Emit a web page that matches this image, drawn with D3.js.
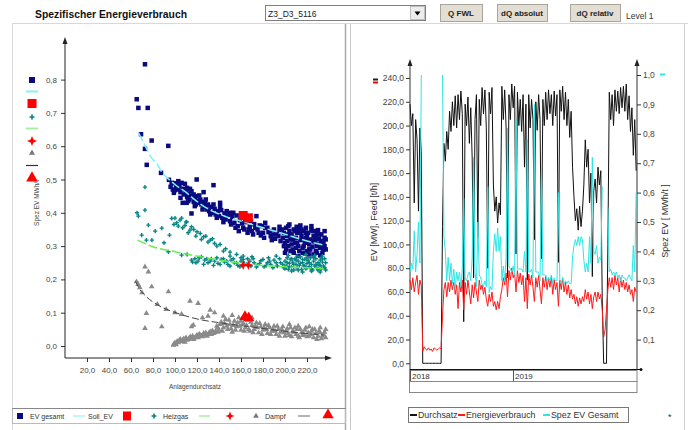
<!DOCTYPE html>
<html><head><meta charset="utf-8">
<script src="https://cdn.jsdelivr.net/npm/d3@7"></script>
<style>
body{margin:0;background:#fff;}
svg{display:block;font-family:"Liberation Sans",Arial,sans-serif;}
</style></head><body>
<svg id="c" width="688" height="430"></svg>
<script>
// ---------------- LEFT CHART DATA ----------------
const xTicksL = [20,40,60,80,100,120,140,160,180,200,220];
const yTicksL = [0,0.1,0.2,0.3,0.4,0.5,0.6,0.7,0.8];
const evGesamt = [[72.7,0.846],[65.2,0.741],[66.7,0.715],[75.2,0.715],[69.1,0.636],[78.8,0.617],[93.9,0.601],[72.7,0.592],[74.3,0.544],[87.3,0.52],[94.5,0.499],[100,0.489],[100,0.468],[106,0.49],[109,0.487],[113.6,0.472],[119.7,0.5],[115,0.398],[107,0.43],[135,0.483],[110.6,0.43],[122.7,0.43],[128.8,0.423],[141,0.43],[150,0.4],[97,0.49],[103,0.495],[111,0.475],[126,0.462],[117,0.455],
[96,0.478],[98,0.47],[101,0.476],[103,0.47],[104,0.482],[105,0.462],[107,0.472],[108,0.455],[110,0.462],[111,0.447],[112,0.458],[113,0.44],[114,0.452],[116,0.447],[117,0.433],[118,0.443],[119,0.425],[120,0.45],[121,0.436],[123,0.44],[124,0.425],[125,0.433],[126,0.418],[127,0.43],[129,0.41],[130,0.425],[131,0.405],[133,0.418],[134,0.4],[136,0.412],[137,0.395],[139,0.405],[140,0.39],[142,0.408],[143,0.385],[145,0.398],[146,0.38],[148,0.392],[150,0.375],[152,0.388],[154,0.37],[156,0.392],[157,0.36],[159,0.378],[161,0.368],[163,0.35],[165,0.372],[168,0.358],[170,0.345],[172,0.366],[175,0.35],[177,0.362],[180,0.34],[182,0.355],[185,0.342],[187,0.33],[190,0.35],[192,0.335],[195,0.345],[174,0.39],[182,0.37],[195,0.358],[210.6,0.358],[158,0.345],[166,0.34],[178,0.332],[188,0.318],
[99,0.46],[102,0.488],[105,0.445],[109,0.47],[112,0.435],[115,0.465],[118,0.42],[122,0.452],[125,0.41],[128,0.44],[132,0.395],[135,0.425],[138,0.385],[141,0.418],[144,0.372],[147,0.405],[151,0.365],[153,0.4],[155,0.355],[160,0.39],[162,0.355],[164,0.38],[167,0.35],[169,0.375],[171,0.335],[173,0.355],[176,0.34],[179,0.36],[181,0.325],[184,0.355],[186,0.345],[189,0.335],[191,0.322],[194,0.33],[196,0.315],[197,0.35],
[198,0.325],[199,0.34],[200,0.31],[201,0.355],[202,0.33],[203,0.3],[204,0.345],[205,0.32],[206,0.335],[207,0.29],[208,0.35],[209,0.31],[210,0.325],[211,0.34],[212,0.3],[213,0.355],[214,0.318],[215,0.33],[216,0.295],[217,0.345],[218,0.31],[219,0.325],[220,0.285],[221,0.34],[222,0.305],[223,0.32],[224,0.35],[225,0.298],[226,0.33],[227,0.312],[228,0.285],[229,0.34],[230,0.305],[231,0.322],[232,0.295],[233,0.335],[234,0.31],[235,0.29],[236,0.325],[212,0.27],[218,0.278],[226,0.275],[232,0.272],[204,0.365],[214,0.362],[224,0.36],[230,0.348],[236,0.3],[200,0.28],[208,0.28],[202,0.315],[206,0.305],[210,0.295],[214,0.34],[216,0.32],[220,0.33],[222,0.29],[226,0.315],[228,0.33],[230,0.32],[234,0.28],[236,0.345],
[199,0.3],[201,0.29],[203,0.335],[205,0.285],[207,0.32],[209,0.345],[211,0.31],[213,0.285],[215,0.35],[217,0.3],[219,0.34],[221,0.315],[223,0.29],[225,0.345],[227,0.325],[229,0.3],[231,0.335],[233,0.315],[235,0.31],[237,0.32],[237,0.29],[203,0.36],[211,0.352],[219,0.355],[227,0.345],[233,0.3],[216,0.28],[222,0.275],[229,0.28]];
const heizgas = [[72.7,0.477],[65.5,0.40],[66.7,0.39],[72.7,0.408],[75.8,0.363],[88,0.354],[100,0.384],[101.5,0.37],[106,0.384],[110,0.372],[115,0.358],[69.7,0.333],[74,0.318],[79,0.318],[95,0.333],[94,0.283],[106,0.273],[111,0.275],[115,0.258],[116,0.252],[82,0.345],[90,0.31],
[97,0.383],[104.5,0.378],[110.6,0.373],[107,0.355],[113.6,0.348],[120,0.343],[126,0.328],[132,0.318],[136,0.308],[99,0.365],[103,0.36],[109,0.362],[112,0.34],[117,0.35],[119,0.33],[123,0.338],[124,0.32],[128,0.33],[130,0.312],[134,0.322],[138,0.3],[141,0.305],[144,0.285],[150,0.282],[156,0.275],[162,0.27],[146,0.292],
[118,0.262],[121,0.255],[124,0.268],[127,0.258],[130,0.25],[133,0.262],[136,0.255],[139,0.248],[142,0.26],[145,0.252],[148,0.245],[151,0.258],[154,0.25],[157,0.242],[160,0.255],[163,0.248],[166,0.262],[169,0.24],[172,0.25],[175,0.243],[178,0.256],[181,0.238],[184,0.25],[187,0.245],[190,0.258],[193,0.24],[196,0.25],[199,0.235],[150,0.27],[160,0.265],[170,0.268],[185,0.265],[192,0.27],
[119,0.25],[122,0.265],[126,0.245],[129,0.262],[132,0.255],[135,0.242],[138,0.265],[141,0.245],[144,0.262],[147,0.255],[150,0.24],[153,0.262],[156,0.25],[159,0.238],[162,0.26],[165,0.245],[168,0.255],[171,0.262],[174,0.237],[177,0.248],[180,0.26],[183,0.242],[186,0.255],[189,0.235],[192,0.25],[195,0.262],[198,0.245],
[200,0.255],[201,0.24],[202,0.265],[203,0.23],[204,0.248],[205,0.26],[206,0.238],[207,0.252],[208,0.228],[209,0.262],[210,0.245],[211,0.235],[212,0.255],[213,0.242],[214,0.268],[215,0.23],[216,0.25],[217,0.24],[218,0.26],[219,0.232],[220,0.248],[221,0.257],[222,0.238],[223,0.265],[224,0.245],[225,0.228],[226,0.255],[227,0.24],[228,0.262],[229,0.235],[230,0.25],[231,0.243],[232,0.258],[233,0.232],[234,0.252],[235,0.24],[236,0.262],[203,0.272],[211,0.27],[219,0.275],[227,0.272],[234,0.27],[206,0.225],[216,0.222],[224,0.225],[232,0.222],
[200,0.232],[202,0.25],[204,0.238],[206,0.262],[208,0.245],[210,0.258],[212,0.228],[214,0.248],[216,0.26],[218,0.24],[220,0.265],[222,0.25],[224,0.232],[226,0.265],[228,0.245],[230,0.228],[232,0.242],[234,0.262],[236,0.235],[237,0.25],[237,0.228]];
const dampf = [[72.7,0.238],[75.8,0.223],[65,0.193],[66.5,0.185],[68,0.175],[78.8,0.178],[94,0.163],[74,0.098],[72.7,0.053],[88,0.058],[113.6,0.135],[115,0.058],[121,0.128],[132,0.108],[136,0.1],[116.7,0.063],[70,0.16],[84,0.125],[92,0.11],[100,0.1],[106,0.095],[125,0.085],[130,0.09],
[98.5,0.003],[100,0.01],[102,0.014],[104,0.018],[106,0.013],[108,0.022],[110,0.025],[112,0.02],[114,0.028],[116,0.03],[118,0.025],[120,0.033],[122,0.036],[124,0.03],[126,0.038],[128,0.04],[130,0.034],[132,0.043],[134,0.046],[136,0.04],
[99,0.006],[101,0.004],[103,0.01],[105,0.02],[107,0.017],[109,0.012],[111,0.018],[113,0.024],[115,0.022],[117,0.02],[119,0.028],[121,0.025],[123,0.032],[125,0.028],[127,0.033],[129,0.03],[131,0.04],[133,0.035],[135,0.038],[137,0.045],[139,0.042],
[138,0.06],[140,0.048],[142,0.072],[144,0.055],[146,0.08],[148,0.05],[150,0.065],[152,0.042],[154,0.075],[156,0.058],[158,0.085],[160,0.048],[162,0.068],[164,0.055],[166,0.078],[168,0.045],[170,0.062],[172,0.05],[174,0.07],[176,0.04],[178,0.058],[180,0.048],[182,0.065],[184,0.038],[186,0.055],[188,0.045],[190,0.06],[192,0.035],[194,0.05],[196,0.042],[198,0.058],[200,0.03],[201,0.045],[203,0.038],[205,0.055],[206,0.028],[208,0.042],[210,0.035],[211,0.05],[213,0.025],[215,0.04],[216,0.032],[218,0.048],[220,0.028],[221,0.04],[223,0.035],[225,0.05],[226,0.025],[228,0.038],[230,0.03],[231,0.045],[233,0.022],[235,0.035],[236,0.042],[204,0.065],[212,0.06],[222,0.058],[232,0.055],[144,0.09],[152,0.092],[160,0.075],[170,0.085],
[139,0.055],[141,0.065],[143,0.045],[145,0.068],[147,0.06],[149,0.078],[151,0.052],[153,0.062],[155,0.048],[157,0.07],[159,0.06],[161,0.082],[163,0.045],[165,0.062],[167,0.05],[169,0.072],[171,0.04],[173,0.06],[175,0.055],[177,0.068],[179,0.035],[181,0.055],[183,0.05],[185,0.062],[187,0.035],[189,0.05],[191,0.045],[193,0.06],[195,0.03],[197,0.05],[199,0.04],[202,0.052],[204,0.032],[207,0.045],[209,0.055],[212,0.03],[214,0.05],[217,0.035],[219,0.055],[222,0.03],[224,0.045],[227,0.05],[229,0.02],[232,0.04],[234,0.03],[237,0.05],[237,0.025]];
const evCurrent = [[162,0.392],[166.7,0.385]];
const heizCurrent = [[162,0.243],[166.7,0.243]];
const dampfCurrent = [[163.6,0.088],[167,0.084]];
const sollEV = [[67,0.64],[73,0.60],[78,0.568],[84,0.545],[88,0.522],[93,0.505],[100,0.485],[111,0.459],[117,0.442],[132,0.408],[145,0.39],[159,0.376],[180,0.355],[198,0.338],[215,0.32],[235,0.303]];
const sollHeiz = [[66,0.318],[80,0.298],[100,0.283],[123,0.268],[150,0.253],[168,0.245],[200,0.238],[235,0.233]];
const sollDampf = [[64,0.195],[68,0.17],[74,0.148],[86,0.12],[98,0.103],[110,0.09],[123,0.079],[138,0.071],[168,0.058],[198,0.045],[235,0.033]];

// ---------------- RIGHT CHART DATA (5-day samples from 2018-01-01) ----------------
const startDate = new Date(2018,0,1);
const stepDays = 5;
const yTicksR1 = [0,20,40,60,80,100,120,140,160,180,200,220,240];
const yTicksR2 = [0.1,0.2,0.3,0.4,0.5,0.6,0.7,0.8,0.9,1.0];
const durchsatz = [218,200,210,135,205,188,128,198,178,0,
0,0,0,0,0,0,0,0,0,0,
0,0,0,115,185,170,195,180,212,195,
220,200,225,198,226,205,229,210,35,218,
200,224,185,215,172,72,205,226,105,222,
200,232,210,230,198,80,228,210,232,150,
128,140,118,135,125,233,205,230,198,72,
226,205,235,215,233,92,228,200,222,195,
226,165,218,70,226,198,222,205,104,220,
196,226,205,88,222,200,228,205,230,210,
226,200,229,208,226,85,230,212,233,205,
228,200,222,190,212,165,140,120,130,112,
132,115,128,150,188,165,180,135,160,73,
145,155,135,165,150,162,55,0,0,0,
100,228,205,226,200,230,212,229,210,232,
215,233,212,235,205,225,195,215,175,205,
162];
const energie = [70,62,72,60,68,74,58,70,65,10,
14,12,11,13,11,12,10,13,12,11,
12,13,12,40,62,68,56,68,60,70,
62,68,58,66,46,68,60,70,45,68,
58,70,60,50,66,55,68,60,52,70,
62,66,58,64,54,48,58,52,60,48,
52,45,52,46,56,62,72,66,76,56,
78,70,80,72,76,60,78,68,76,66,
74,52,72,46,75,66,74,64,52,72,
64,74,62,50,72,64,73,62,72,64,
73,58,70,62,68,48,70,62,72,60,
68,58,66,55,62,54,58,50,56,48,
55,50,56,52,62,54,60,50,58,46,
56,60,52,60,54,58,45,22,28,45,
62,72,64,72,62,74,66,72,60,72,
64,70,62,68,60,66,58,62,52,64,
60];
const spezEV = [0.33,0.36,0.34,0.47,0.33,0.39,0.5,0.36,1.0,null,
null,null,null,null,null,null,null,null,null,null,
null,null,null,1.0,0.45,0.4,0.3,0.38,0.3,0.36,
0.29,0.34,0.27,0.33,0.3,0.33,0.28,0.34,0.58,0.31,
0.3,0.32,0.33,0.3,0.38,0.72,0.33,0.28,0.5,0.32,
0.31,0.29,0.28,0.3,0.28,0.62,0.26,0.28,0.27,0.4,
0.46,0.4,0.48,0.4,0.45,0.3,0.35,0.3,0.38,0.82,
0.35,0.34,0.33,0.35,0.32,0.85,0.34,0.34,0.34,0.34,
0.33,0.4,0.33,0.78,0.33,0.33,0.34,0.31,0.9,0.33,
0.33,0.33,0.3,0.68,0.32,0.32,0.32,0.3,0.31,0.3,
0.32,0.29,0.31,0.3,0.3,0.6,0.3,0.29,0.31,0.29,
0.3,0.29,0.3,0.29,0.29,0.38,0.42,0.44,0.42,0.45,
0.42,0.45,0.44,0.37,0.33,0.36,0.33,0.45,0.36,0.72,
0.4,0.39,0.42,0.36,0.38,0.37,0.62,null,null,null,
0.55,0.33,0.34,0.32,0.33,0.32,0.33,0.31,0.32,0.3,
0.32,0.31,0.31,0.3,0.31,0.32,0.31,0.3,0.42,0.33,
0.6];
const years = [2018,2019];

// ---------------- DRAW ----------------
const svg = d3.select("#c");
const fmt1 = d => d3.format(".1f")(d).replace(".", ",");

// frames
svg.append("line").attr("x1",12).attr("x2",688).attr("y1",23.5).attr("y2",23.5).attr("stroke","#d8d8d8");
svg.append("line").attr("x1",12.5).attr("x2",12.5).attr("y1",24).attr("y2",430).attr("stroke","#d8d8d8");
svg.append("line").attr("x1",345.5).attr("x2",345.5).attr("y1",24).attr("y2",430).attr("stroke","#a8a8a8").attr("stroke-width",1.5);
svg.append("line").attr("x1",350.5).attr("x2",350.5).attr("y1",24).attr("y2",430).attr("stroke","#c8c8c8");
svg.append("line").attr("x1",684.5).attr("x2",684.5).attr("y1",24).attr("y2",430).attr("stroke","#d0d0d0");

// header
svg.append("text").attr("x",35).attr("y",18).attr("font-size",11.5).attr("font-weight","bold")
  .attr("textLength",152).attr("lengthAdjust","spacingAndGlyphs").attr("fill","#111").text("Spezifischer Energieverbrauch");
svg.append("rect").attr("x",265.5).attr("y",5.5).attr("width",160).attr("height",15).attr("fill","#fff").attr("stroke","#7f7f7f");
svg.append("text").attr("x",268).attr("y",16.5).attr("font-size",8.5).attr("fill","#222").text("Z3_D3_5116");
svg.append("rect").attr("x",410.5).attr("y",6.5).attr("width",14).attr("height",13).attr("fill","#ececec").attr("stroke","#c0c0c0");
svg.append("path").attr("d","M414.5,11.5 L420.5,11.5 L417.5,15.5 Z").attr("fill","#000");
const buttons = [{x:440,w:42,t:"Q FWL"},{x:497,w:50,t:"dQ absolut"},{x:570,w:50,t:"dQ relativ"}];
buttons.forEach(b=>{
  svg.append("rect").attr("x",b.x+0.5).attr("y",4.5).attr("width",b.w).attr("height",17).attr("fill","#e2ded3").attr("stroke","#a9a59a");
  svg.append("text").attr("x",b.x+b.w/2).attr("y",15.5).attr("text-anchor","middle").attr("font-size",8).attr("font-weight","bold").attr("fill","#222").text(b.t);
});
svg.append("text").attr("x",626).attr("y",19).attr("font-size",8.5).attr("fill","#333").text("Level 1");

// ---------- LEFT SCATTER ----------
const xL = d3.scaleLinear().domain([0,240]).range([65,329]);
const yL = d3.scaleLinear().domain([0,0.8]).range([346,79.6]);
const gL = svg.append("g");

const yAxL = d3.axisLeft(yL).tickValues(yTicksL).tickFormat(fmt1).tickSize(4).tickPadding(4);
gL.append("g").attr("transform","translate(65,0)").call(yAxL)
  .call(g=>{g.select(".domain").remove(); g.selectAll("text").attr("font-size",8).attr("fill","#444").attr("font-family","Liberation Sans, Arial"); g.selectAll("line").attr("stroke","#333");});
const xAxL = d3.axisBottom(xL).tickValues(xTicksL).tickFormat(fmt1).tickSize(4).tickPadding(5);
gL.append("g").attr("transform","translate(0,358)").call(xAxL)
  .call(g=>{g.select(".domain").remove(); g.selectAll("text").attr("font-size",8).attr("fill","#444").attr("font-family","Liberation Sans, Arial"); g.selectAll("line").attr("stroke","#333");});
gL.append("line").attr("x1",65).attr("x2",65).attr("y1",358).attr("y2",42).attr("stroke","#222");
gL.append("path").attr("d","M65,37 L62.5,44 L67.5,44 Z").attr("fill","#222");
gL.append("line").attr("x1",65).attr("x2",327).attr("y1",358).attr("y2",358).attr("stroke","#222");
gL.append("path").attr("d","M332,358 L325,355.5 L325,360.5 Z").attr("fill","#222");
gL.append("text").attr("transform","translate(39,203) rotate(-90)").attr("text-anchor","middle").attr("font-size",6.5).attr("fill","#444").text("Spez EV MWh/t");
gL.append("text").attr("x",195).attr("y",389).attr("text-anchor","middle").attr("font-size",6.5).attr("fill","#444").text("Anlagendurchsatz");

// points
const sq = 4.5;
gL.append("g").selectAll("rect").data(evGesamt).join("rect")
  .attr("x",d=>xL(d[0])-sq/2).attr("y",d=>yL(d[1])-sq/2).attr("width",sq).attr("height",sq).attr("fill","#0a0a80");
const crossSym = d3.symbol(d3.symbolCross, 10);
gL.append("g").selectAll("path").data(heizgas).join("path")
  .attr("transform",d=>`translate(${xL(d[0])},${yL(d[1])})`).attr("d",crossSym).attr("fill","#0a8585");
const triSym = d3.symbol(d3.symbolTriangle, 14);
gL.append("g").selectAll("path").data(dampf).join("path")
  .attr("transform",d=>`translate(${xL(d[0])},${yL(d[1])})`).attr("d",triSym).attr("fill","#8a8a8a");

// fit lines
const lineL = d3.line().x(d=>xL(d[0])).y(d=>yL(d[1])).curve(d3.curveMonotoneX);
gL.append("path").datum(sollEV).attr("d",lineL).attr("fill","none").attr("stroke","#7ff3f3").attr("stroke-width",1.5).attr("stroke-dasharray","9,3");
gL.append("path").datum(sollHeiz).attr("d",lineL).attr("fill","none").attr("stroke","#66ee55").attr("stroke-width",1.5).attr("stroke-dasharray","9,3");
gL.append("path").datum(sollDampf).attr("d",lineL).attr("fill","none").attr("stroke","#444").attr("stroke-width",1).attr("stroke-dasharray","7,3");

// current red markers
const star4 = "M0,-5 L1.4,-1.4 L5,0 L1.4,1.4 L0,5 L-1.4,1.4 L-5,0 L-1.4,-1.4Z";
gL.append("g").selectAll("rect").data(evCurrent).join("rect")
  .attr("x",d=>xL(d[0])-4.5).attr("y",d=>yL(d[1])-4.5).attr("width",9).attr("height",9).attr("fill","#ff0000");
gL.append("g").selectAll("path").data(heizCurrent).join("path")
  .attr("transform",d=>`translate(${xL(d[0])},${yL(d[1])})`).attr("d",star4).attr("fill","#ff0000");
const bigTri = d3.symbol(d3.symbolTriangle, 55);
gL.append("g").selectAll("path").data(dampfCurrent).join("path")
  .attr("transform",d=>`translate(${xL(d[0])},${yL(d[1])})`).attr("d",bigTri).attr("fill","#ff0000");

// left vertical legend
const lg = svg.append("g");
lg.append("rect").attr("x",29).attr("y",77).attr("width",6).attr("height",6).attr("fill","#0a0a80");
lg.append("line").attr("x1",26).attr("x2",38).attr("y1",91.5).attr("y2",91.5).attr("stroke","#7ff3f3").attr("stroke-width",2);
lg.append("rect").attr("x",27.5).attr("y",99).attr("width",9).attr("height",9).attr("fill","#ff0000");
lg.append("path").attr("transform","translate(32,117)").attr("d",d3.symbol(d3.symbolCross,14)).attr("fill","#0a8585");
lg.append("line").attr("x1",26).attr("x2",38).attr("y1",128.5).attr("y2",128.5).attr("stroke","#a8f0a0").attr("stroke-width",2);
lg.append("path").attr("transform","translate(32,141)").attr("d",star4).attr("fill","#ff0000");
lg.append("path").attr("transform","translate(32,153)").attr("d",d3.symbol(d3.symbolTriangle,16)).attr("fill","#777");
lg.append("line").attr("x1",26).attr("x2",38).attr("y1",165.5).attr("y2",165.5).attr("stroke","#333").attr("stroke-width",1.2);
lg.append("path").attr("transform","translate(32,178)").attr("d",d3.symbol(d3.symbolTriangle,60)).attr("fill","#ff0000");

// bottom legend (left)
const bl = svg.append("g");
bl.append("rect").attr("x",12.5).attr("y",408.5).attr("width",333).attr("height",15).attr("fill","none").attr("stroke","#bbb");
bl.append("line").attr("x1",12).attr("x2",346).attr("y1",408.5).attr("y2",408.5).attr("stroke","#888");
const bly = 416;
bl.append("rect").attr("x",17).attr("y",bly-3).attr("width",6).attr("height",6).attr("fill","#0a0a80");
bl.append("text").attr("x",30).attr("y",bly+2.5).attr("font-size",7).attr("fill","#333").text("EV gesamt");
bl.append("line").attr("x1",73).attr("x2",85).attr("y1",bly).attr("y2",bly).attr("stroke","#a8f6f6").attr("stroke-width",1.5);
bl.append("text").attr("x",88).attr("y",bly+2.5).attr("font-size",7).attr("fill","#333").text("Soll_EV");
bl.append("rect").attr("x",123).attr("y",bly-4.5).attr("width",8).attr("height",9).attr("fill","#ff0000");
bl.append("path").attr("transform",`translate(154,${bly})`).attr("d",d3.symbol(d3.symbolCross,14)).attr("fill","#0a8585");
bl.append("text").attr("x",163).attr("y",bly+2.5).attr("font-size",7).attr("fill","#333").text("Heizgas");
bl.append("line").attr("x1",199).attr("x2",210).attr("y1",bly).attr("y2",bly).attr("stroke","#a8f0a0").attr("stroke-width",1.5);
bl.append("path").attr("transform",`translate(230,${bly}) scale(0.9)`).attr("d",star4).attr("fill","#ff0000");
bl.append("path").attr("transform",`translate(256,${bly})`).attr("d",d3.symbol(d3.symbolTriangle,14)).attr("fill","#777");
bl.append("text").attr("x",265).attr("y",bly+2.5).attr("font-size",7).attr("fill","#333").text("Dampf");
bl.append("line").attr("x1",298).attr("x2",310).attr("y1",bly).attr("y2",bly).attr("stroke","#999").attr("stroke-width",1.5);
bl.append("path").attr("transform",`translate(328,${bly-1})`).attr("d",d3.symbol(d3.symbolTriangle,55)).attr("fill","#ff0000");

// ---------- RIGHT TIME SERIES ----------
const dates = durchsatz.map((_,i)=>d3.timeDay.offset(startDate, i*stepDays));
const xR = d3.scaleTime().domain([startDate, new Date(2020,2,14)]).range([410,637]);
const yR1 = d3.scaleLinear().domain([0,240]).range([363.3,78]);
const yR2 = d3.scaleLinear().domain([0,1]).range([369,75]);
const gR = svg.append("g");

const ax1 = d3.axisLeft(yR1).tickValues(yTicksR1).tickFormat(fmt1).tickSize(4).tickPadding(2);
gR.append("g").attr("transform","translate(410,0)").call(ax1)
  .call(g=>{g.select(".domain").remove(); g.selectAll("text").attr("font-size",8.5).attr("fill","#444").attr("font-family","Liberation Sans, Arial"); g.selectAll("line").attr("stroke","#333");});
const ax2 = d3.axisRight(yR2).tickValues(yTicksR2).tickFormat(fmt1).tickSize(4).tickPadding(2);
gR.append("g").attr("transform","translate(637,0)").call(ax2)
  .call(g=>{g.select(".domain").remove(); g.selectAll("text").attr("font-size",8.5).attr("fill","#444").attr("font-family","Liberation Sans, Arial"); g.selectAll("line").attr("stroke","#333");});
gR.append("line").attr("x1",410).attr("x2",410).attr("y1",370).attr("y2",65).attr("stroke","#333");
gR.append("path").attr("d","M410,59 L407.5,66 L412.5,66 Z").attr("fill","#222");
gR.append("line").attr("x1",637).attr("x2",637).attr("y1",370).attr("y2",65).attr("stroke","#333");
gR.append("path").attr("d","M637,59 L634.5,66 L639.5,66 Z").attr("fill","#222");
gR.append("text").attr("transform","translate(377,222) rotate(-90)").attr("text-anchor","middle").attr("font-size",9).attr("fill","#333").text("EV [MW], Feed [t/h]");
gR.append("text").attr("transform","translate(668,221) rotate(-90)").attr("text-anchor","middle").attr("font-size",9).attr("fill","#333").text("Spez EV [ MWh/t ]");
gR.append("rect").attr("x",373).attr("y",78.5).attr("width",5).attr("height",2).attr("fill","#222");
gR.append("rect").attr("x",373).attr("y",81.5).attr("width",5).attr("height",2).attr("fill","#ff0000");
gR.append("rect").attr("x",660).attr("y",73.5).attr("width",5).attr("height",2).attr("fill","#2ee6e6");

// series lines
const lnBlack = d3.line().defined(d=>d[1]!=null).x(d=>xR(d[0])).y(d=>yR1(d[1]));
const lnCyan = d3.line().defined(d=>d[1]!=null).x(d=>xR(d[0])).y(d=>yR2(d[1]));
gR.append("path").datum(dates.map((d,i)=>[d,durchsatz[i]])).attr("d",lnBlack).attr("fill","none").attr("stroke","#111").attr("stroke-width",1);
gR.append("path").datum(dates.map((d,i)=>[d,energie[i]])).attr("d",lnBlack).attr("fill","none").attr("stroke","#ff1a1a").attr("stroke-width",1);
gR.append("path").datum(dates.map((d,i)=>[d,spezEV[i]])).attr("d",lnCyan).attr("fill","none").attr("stroke","#2ee6e6").attr("stroke-width",1);

// x axis & date band
gR.append("line").attr("x1",410).attr("x2",641).attr("y1",369.5).attr("y2",369.5).attr("stroke","#111");
gR.append("circle").attr("cx",641).attr("cy",369.5).attr("r",1.5).attr("fill","#111");
gR.append("rect").attr("x",409.5).attr("y",370.5).attr("width",227.5).attr("height",11).attr("fill","none").attr("stroke","#888");
gR.append("rect").attr("x",409.5).attr("y",381.5).attr("width",227.5).attr("height",11).attr("fill","none").attr("stroke","#888");
years.forEach(y=>{
  const xx = Math.round(xR(new Date(y,0,1)))+0.5;
  gR.append("line").attr("x1",xx).attr("x2",xx).attr("y1",370).attr("y2",381).attr("stroke","#555");
  gR.append("text").attr("x",xx+1.5).attr("y",379).attr("font-size",8).attr("fill","#333").text(y);
});

// legend box (right)
const rl = svg.append("g");
rl.append("rect").attr("x",408.5).attr("y",407.5).attr("width",220).attr("height",15).attr("fill","#fff").attr("stroke","#777");
const rly = 415;
rl.append("line").attr("x1",410).attr("x2",417).attr("y1",rly).attr("y2",rly).attr("stroke","#111").attr("stroke-width",2);
rl.append("text").attr("x",418).attr("y",rly+3).attr("font-size",8.8).attr("fill","#333").text("Durchsatz");
rl.append("line").attr("x1",458).attr("x2",465).attr("y1",rly).attr("y2",rly).attr("stroke","#ff1a1a").attr("stroke-width",2);
rl.append("text").attr("x",466).attr("y",rly+3).attr("font-size",8.8).attr("fill","#333").text("Energieverbrauch");
rl.append("line").attr("x1",543).attr("x2",550).attr("y1",rly).attr("y2",rly).attr("stroke","#2ee6e6").attr("stroke-width",2);
rl.append("text").attr("x",551).attr("y",rly+3).attr("font-size",8.8).attr("fill","#333").text("Spez EV Gesamt");
svg.append("text").attr("x",668).attr("y",420).attr("font-size",9).attr("fill","#333").text("*");
</script>
</body></html>
